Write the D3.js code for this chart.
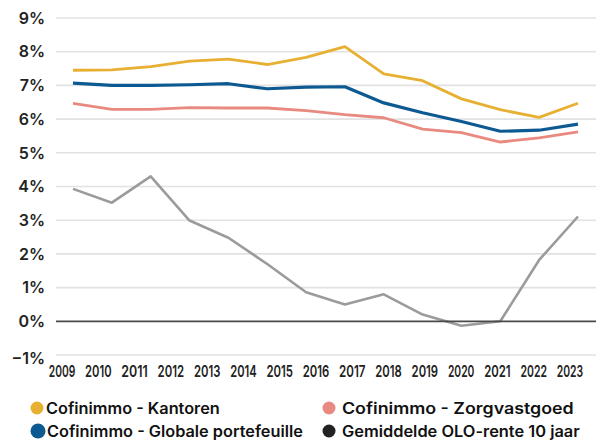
<!DOCTYPE html>
<html><head><meta charset="utf-8">
<script src="https://cdn.jsdelivr.net/npm/d3@7"></script>
<style>
html,body{margin:0;padding:0;background:#fff;}
svg{display:block;font-family:Inter,"Open Sans",sans-serif;}
</style></head>
<body><svg id="c" width="596" height="441"></svg>
<script>
const yearLabels = ["2009","2010","2011","2012","2013","2014","2015","2016","2017","2018","2019","2020","2021","2022","2023"];
const pointIndex = [0,1,2,3,4,5,6,7,8,9,10,11,12,13];
const kantoren = [7.45,7.46,7.56,7.72,7.78,7.62,7.83,8.15,7.34,7.14,6.60,6.28,6.05,6.47];
const globale  = [7.07,7.00,7.00,7.02,7.05,6.90,6.95,6.96,6.48,6.19,5.93,5.64,5.67,5.85];
const zorg     = [6.47,6.29,6.29,6.34,6.33,6.33,6.25,6.13,6.04,5.70,5.60,5.32,5.44,5.62];
const olo      = [3.93,3.52,4.30,2.99,2.48,1.70,0.86,0.50,0.80,0.20,-0.13,0.00,1.82,3.11];
const yTicks = [9,8,7,6,5,4,3,2,1,0,-1];
const seriesNames = ["Cofinimmo - Kantoren","Cofinimmo - Zorgvastgoed","Cofinimmo - Globale portefeuille","Gemiddelde OLO-rente 10 jaar"];

const svg = d3.select("#c");
const y = d3.scaleLinear().domain([-1, 9]).range([355, 18]);
const xData = d3.scalePoint().domain(pointIndex).range([73, 578]);
const xLab = d3.scalePoint().domain(yearLabels).range([62, 570]);

// fit a text horizontally to a target width via transform scale (anchored at its x)
function fitWidth(sel, widthFn, anchorFn) {
  sel.each(function(d) {
    const t = d3.select(this);
    const w = this.getComputedTextLength();
    const target = widthFn(d);
    const s = Math.min(1.15, target / w);
    const ax = anchorFn(d);
    t.attr("transform", `translate(${ax},0) scale(${s},1) translate(${-ax},0)`);
  });
}

// grid
const grid = svg.append("g");
grid.selectAll("line").data(yTicks.filter(d => d !== 0)).join("line")
  .attr("x1", 56).attr("x2", 596)
  .attr("y1", d => y(d)).attr("y2", d => y(d))
  .attr("stroke", "#e2e2e2").attr("stroke-width", 1.6);

// y labels
svg.append("g").selectAll("text").data(yTicks).join("text")
  .attr("x", 45).attr("y", d => y(d) + (d === -1 ? 3 : 0)).attr("dy", "0.36em")
  .attr("text-anchor", "end").attr("font-size", 16).attr("font-weight", 600).attr("fill", "#222")
  .text(d => (d < 0 ? "\u22121" : d) + "%");

// x labels
const xl = svg.append("g").selectAll("text").data(yearLabels).join("text")
  .attr("x", d => xLab(d)).attr("y", 377)
  .attr("text-anchor", "middle").attr("font-size", 16.5).attr("font-weight", 600).attr("fill", "#222")
  .text(d => d);
fitWidth(xl, () => 26.5, d => xLab(d));

const line = d3.line().x((d, i) => xData(i)).y(d => y(d));

// OLO line
svg.append("path").datum(olo).attr("d", line)
  .attr("fill", "none").attr("stroke", "#9b9b9b").attr("stroke-width", 2.6).attr("stroke-linejoin", "round");

// zero line
svg.append("line").attr("x1", 56).attr("x2", 596).attr("y1", y(0)).attr("y2", y(0))
  .attr("stroke", "#4a4a4a").attr("stroke-width", 1.8);

const colors = {k: "#e8b032", z: "#e98a80", g: "#0d5a93", o: "#222222"};
svg.append("path").datum(zorg).attr("d", line)
  .attr("fill", "none").attr("stroke", colors.z).attr("stroke-width", 2.8).attr("stroke-linejoin", "round");
svg.append("path").datum(kantoren).attr("d", line)
  .attr("fill", "none").attr("stroke", colors.k).attr("stroke-width", 2.8).attr("stroke-linejoin", "round");
svg.append("path").datum(globale).attr("d", line)
  .attr("fill", "none").attr("stroke", colors.g).attr("stroke-width", 3.2).attr("stroke-linejoin", "round");

// legend
const legend = [
  {name: seriesNames[0], c: colors.k, x: 37, y: 408, r: 6.5, w: 174},
  {name: seriesNames[1], c: colors.z, x: 329, y: 408, r: 6.5, w: 234},
  {name: seriesNames[2], c: colors.g, x: 38, y: 431, r: 7.5, w: 256},
  {name: seriesNames[3], c: colors.o, x: 329, y: 431, r: 6.5, w: 238}
];
const lg = svg.append("g").selectAll("g").data(legend).join("g");
lg.append("circle").attr("cx", d => d.x).attr("cy", d => d.y).attr("r", d => d.r).attr("fill", d => d.c);
const lt = lg.append("text").attr("x", d => d.x + (d.x < 100 ? 9 : 13)).attr("y", d => d.y).attr("dy", "0.36em")
  .attr("font-size", 15.5).attr("font-weight", 600).attr("fill", "#111")
  .text(d => d.name);
fitWidth(lt, d => d.w, d => d.x + (d.x < 100 ? 9 : 13));
</script></body></html>
